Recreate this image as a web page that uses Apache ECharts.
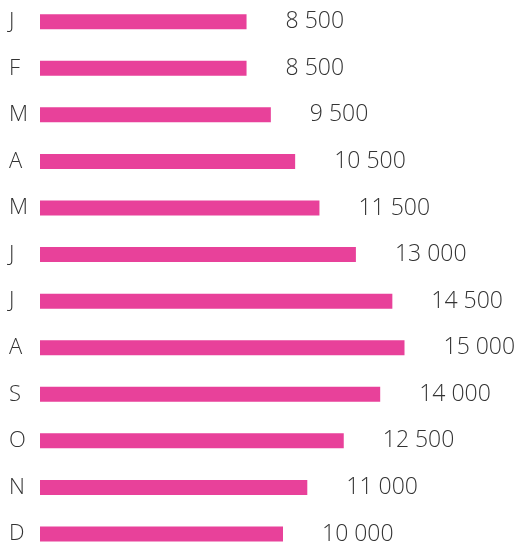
<!DOCTYPE html>
<html>
<head>
<meta charset="utf-8">
<script src="https://cdn.jsdelivr.net/npm/echarts@6/dist/echarts.min.js"></script>
<style>html,body{margin:0;padding:0;background:#fff;}#c{width:518px;height:546px;}</style>
</head>
<body>
<div id="c"></div>
<script>
var months = ['J','F','M','A','M','J','J','A','S','O','N','D'];
var values = [8500, 8500, 9500, 10500, 11500, 13000, 14500, 15000, 14000, 12500, 11000, 10000];

function fmt(v){ return String(v).replace(/\B(?=(\d{3})+(?!\d))/g, ' '); }

var chart = echarts.init(document.getElementById('c'));
chart.setOption({
  animation: false,
  grid: { left: 40, top: 21.7, height: 512.3, width: 364.5, containLabel: false },
  xAxis: { type: 'value', min: 0, max: 15000, show: false },
  yAxis: {
    type: 'category', data: months, inverse: true, boundaryGap: false,
    axisLine: { show: false }, axisTick: { show: false },
    axisLabel: { align: 'left', margin: 31, fontFamily: 'Open Sans', fontWeight: 300, fontSize: 22, color: '#333' }
  },
  series: [{
    type: 'bar', data: values, barWidth: 15,
    itemStyle: { color: '#e8419a' },
    label: { show: true, position: 'right', distance: 39, fontFamily: 'Open Sans', fontWeight: 300, fontSize: 23, color: '#333',
      formatter: function(p){ return fmt(p.value); } }
  }]
});
</script>
</body>
</html>
